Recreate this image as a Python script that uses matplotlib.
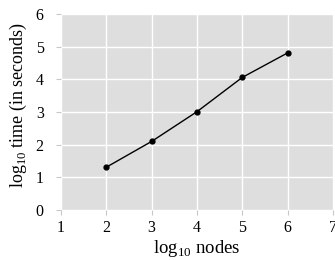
import matplotlib
matplotlib.use("Agg")
import matplotlib.pyplot as plt

log_nodes = [2, 3, 4, 5, 6]
log_time = [1.31, 2.10, 3.01, 4.06, 4.81]
x_ticks = [1, 2, 3, 4, 5, 6, 7]
y_ticks = [0, 1, 2, 3, 4, 5, 6]

plt.rcParams['font.family'] = ['Liberation Serif', 'DejaVu Serif']
plt.rcParams['mathtext.fontset'] = 'custom'
plt.rcParams['mathtext.rm'] = 'Liberation Serif'

fig = plt.figure(figsize=(3.35, 2.6), dpi=100)
ax = fig.add_axes([61/335, 1 - 210/260, (333 - 61)/335, (210 - 14)/260])
ax.set_facecolor('#dedede')
ax.set_xlim(1, 7)
ax.set_ylim(0, 6)
ax.set_xticks(x_ticks)
ax.set_yticks(y_ticks)
ax.grid(True, color='white', linewidth=1.0)
ax.set_axisbelow(True)
for s in ax.spines.values():
    s.set_visible(False)
ax.tick_params(axis='both', length=3.5, width=0.8, color='#c8c8c8', labelsize=11.5)
ax.tick_params(axis='y', pad=9)
ax.tick_params(axis='x', pad=4)
ax.plot(log_nodes, log_time, color='black', linewidth=1.0, marker='o', markersize=3.5)
ax.set_xlabel(r'log$_{10}$ nodes', fontsize=13.5, labelpad=1)
ax.set_ylabel(r'log$_{10}$ time (in seconds)', fontsize=13)
ax.yaxis.set_label_coords(-0.118, 0.538)
fig.savefig('out.png', dpi=100)
